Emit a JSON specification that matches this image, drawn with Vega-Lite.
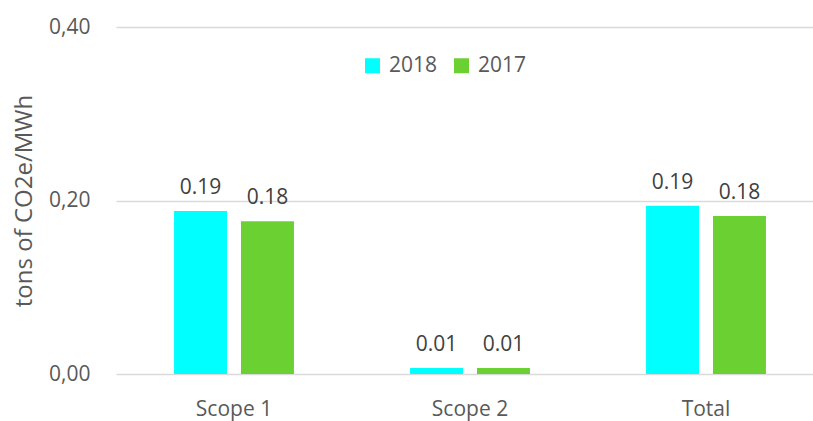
{
  "$schema": "https://vega.github.io/schema/vega-lite/v6.json",
  "autosize": {"type": "none"},
  "width": 697,
  "height": 347,
  "padding": {"left": 116, "top": 27, "right": 0, "bottom": 47},
  "background": "white",
  "config": {
    "font": "Open Sans",
    "view": {"stroke": null},
    "axis": {"labelColor": "#595959", "titleColor": "#595959", "labelFontSize": 22, "titleFontSize": 22, "titleFontWeight": "normal"}
  },
  "data": {
    "values": [
      {"category": "Scope 1", "year": "2018", "value": 0.188},
      {"category": "Scope 1", "year": "2017", "value": 0.176},
      {"category": "Scope 2", "year": "2018", "value": 0.007},
      {"category": "Scope 2", "year": "2017", "value": 0.007},
      {"category": "Total", "year": "2018", "value": 0.194},
      {"category": "Total", "year": "2017", "value": 0.182}
    ]
  },
  "encoding": {
    "x": {
      "field": "category", "type": "nominal", "sort": ["Scope 1", "Scope 2", "Total"],
      "scale": {"range": [0, 708], "paddingInner": 0.492, "paddingOuter": 0.246},
      "axis": {"title": null, "labelAngle": 0, "domain": false, "ticks": false, "labelPadding": 24, "labelFontSize": 21}
    },
    "xOffset": {
      "field": "year", "type": "nominal", "sort": ["2018", "2017"],
      "scale": {"paddingInner": 0.209, "paddingOuter": 0}
    },
    "y": {
      "field": "value", "type": "quantitative",
      "scale": {"domain": [0, 0.4], "nice": false},
      "axis": {
        "title": "tons of CO2e/MWh", "values": [0, 0.2, 0.4],
        "labelExpr": "replace(format(datum.value, '.2f'), '.', ',')",
        "domain": false, "ticks": false, "grid": true, "gridColor": "#D9D9D9", "gridWidth": 1.5,
        "labelPadding": 26, "labelFontSize": 21, "titleFontSize": 24, "titlePadding": 12
      }
    }
  },
  "layer": [
    {
      "mark": {"type": "bar"},
      "encoding": {
        "color": {
          "field": "year", "type": "nominal", "sort": ["2018", "2017"],
          "scale": {"domain": ["2018", "2017"], "range": ["#00FFFF", "#6BD031"]},
          "legend": {
            "title": null, "orient": "none", "direction": "horizontal",
            "legendX": 246, "legendY": 28,
            "symbolType": "square", "symbolSize": 225, "symbolStrokeWidth": 0,
            "labelFontSize": 21, "labelColor": "#595959", "columnPadding": 13, "labelOffset": 6
          }
        }
      }
    },
    {
      "mark": {"type": "text", "baseline": "alphabetic", "dy": -17, "fontSize": 21, "color": "#404040"},
      "encoding": {
        "text": {"field": "value", "type": "quantitative", "format": ".2f"}
      }
    }
  ]
}
